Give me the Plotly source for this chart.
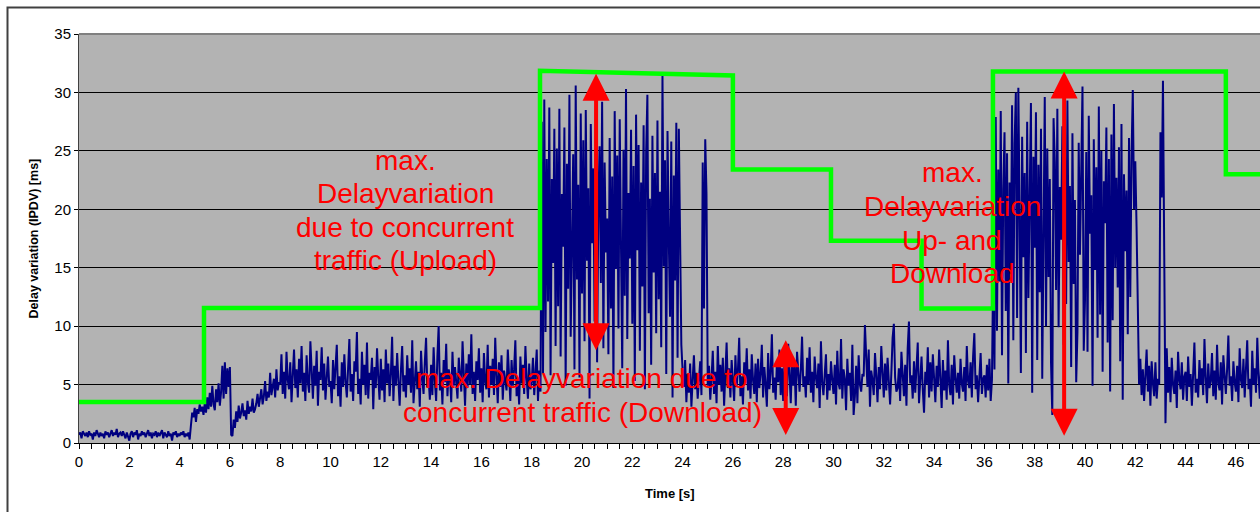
import numpy as np
import plotly.graph_objects as go

SAMPLE_STEP = 0.05  # seconds between delay samples

# IPDV delay samples [ms], 20 samples per second
delay_00s = [
    0.7,0.9,0.4,1.0,0.8,0.6,0.9,0.5,1.0,0.7,0.8,0.3,0.9,0.6,1.1,0.7,0.5,0.9,0.6,0.8,
    0.4,1.0,0.7,0.9,0.5,0.8,1.1,0.6,0.9,0.7,1.2,0.5,0.8,0.9,0.6,1.0,0.7,0.4,0.9,0.6,
    0.2,0.8,1.0,0.5,0.9,0.7,1.1,0.3,0.8,0.6,1.0,0.7,0.9,0.5,0.8,1.1,0.6,0.9,0.4,0.8,
    0.7,1.0,0.5,0.9,0.6,0.8,1.1,0.4,0.9,0.7,0.5,1.0,0.6,0.8,0.2,0.9,0.7,1.0,0.5,0.8,
    0.6,0.9,0.7,1.0,0.5,0.8,0.6,0.9,0.3,1.5,2.6,2.2,3.0,1.8,2.9,2.5,3.3,2.7,3.1,2.4,
    3.4,2.6,3.9,2.9,4.3,3.1,4.9,3.3,2.8,4.6,3.5,5.1,3.2,4.4,6.6,3.8,6.9,4.2,6.4,4.8,
    6.5,0.7,0.6,2.0,1.3,2.7,1.8,3.2,2.1,2.6,3.4,2.3,2.8,2.0,3.6,2.5,3.1,2.7,3.8,2.6,
    2.9,3.4,4.2,3.1,3.7,4.6,3.3,4.0,5.3,3.6,4.4,3.9,6.0,4.1,4.8,5.5,3.9,6.3,4.5,5.2,
    5.0,7.6,4.2,6.1,3.8,7.8,5.4,4.6,6.9,3.5,5.8,8.0,4.7,6.3,3.9,7.2,5.1,8.3,4.4,6.0,
    3.6,7.5,5.2,4.3,8.7,5.9,3.8,6.6,4.9,7.9,3.2,6.1,5.4,8.2,4.5,6.8,3.7,5.6,7.4,4.8,
]
delay_10s = [
    5.3,3.4,7.1,4.6,6.2,8.4,4.0,5.7,3.1,6.9,4.8,7.6,5.2,3.9,6.4,8.9,4.4,5.9,3.6,7.0,
    6.1,9.5,4.2,5.5,3.3,7.8,5.0,6.7,4.1,8.6,3.8,6.0,5.4,7.3,2.9,6.5,4.7,8.1,5.6,3.7,
    7.2,4.5,6.3,3.5,8.0,5.1,6.8,4.0,5.9,9.1,3.6,6.6,4.9,7.7,5.3,3.2,6.2,8.3,4.4,5.8,
    3.9,7.5,5.0,6.4,4.3,8.8,3.4,5.7,7.0,4.6,6.1,3.1,7.9,5.5,4.2,6.9,9.0,4.8,5.6,3.7,
    6.7,4.1,8.2,5.3,3.6,7.4,10.0,4.5,6.0,3.3,7.1,5.2,8.5,4.0,6.3,5.7,3.5,7.8,4.9,6.5,
    5.1,3.8,7.3,6.0,4.4,8.7,5.5,3.2,6.8,4.7,7.6,5.0,9.3,4.2,6.1,3.6,7.0,5.4,8.1,4.3,
    6.4,3.5,7.7,5.2,4.6,8.4,3.9,6.6,5.0,7.2,4.1,9.0,5.8,3.4,6.9,4.8,7.5,3.7,6.2,5.3,
    4.5,8.0,5.9,3.6,7.1,4.9,6.3,8.8,4.0,5.6,3.3,7.4,5.1,6.7,4.2,8.3,5.5,3.8,6.8,4.6,
    5.2,7.3,4.1,6.6,8.0,3.6,6.2,4.4,27.5,6.0,29.4,9.5,24.3,12.1,28.7,5.8,22.6,15.4,26.9,8.3,
    25.2,11.7,28.6,7.4,21.3,16.8,27.0,4.9,23.9,13.2,29.8,9.1,19.5,24.7,6.3,30.6,14.0,22.1,5.6,28.2,
]
delay_20s = [
    12.8,25.9,8.7,28.5,15.6,21.8,3.8,27.3,17.1,23.5,10.4,28.9,6.9,20.6,25.4,13.7,29.2,8.1,24.0,16.3,
    19.2,7.6,26.1,11.5,22.8,4.7,28.4,14.9,24.6,9.8,27.7,18.3,6.4,25.1,12.6,30.3,8.9,21.4,15.8,26.8,
    10.2,23.7,5.3,28.1,16.5,25.5,7.9,22.3,13.4,27.2,4.6,24.8,29.8,11.1,20.9,6.7,26.3,14.6,23.1,9.4,
    27.6,12.3,21.5,8.2,31.4,15.1,24.2,5.9,26.7,17.6,10.8,25.8,3.9,22.9,13.9,27.4,7.3,26.9,19.7,8.4,
    6.2,4.8,7.1,3.5,5.9,4.3,6.8,3.1,5.4,7.5,4.6,6.0,3.8,5.2,7.0,4.1,24.0,11.5,26.0,21.3,
    4.9,6.6,3.7,5.5,7.9,4.2,6.1,3.4,8.3,5.0,6.7,4.4,7.3,3.2,5.8,8.6,4.7,6.4,3.9,7.1,
    5.3,3.6,7.5,4.8,6.2,9.0,4.0,5.7,3.3,6.9,5.1,8.1,4.5,6.3,3.8,7.6,5.4,4.2,6.8,3.5,
    7.2,4.7,5.9,8.4,3.9,6.5,5.0,3.1,7.7,4.6,6.0,9.3,4.3,5.6,3.7,7.0,5.2,8.0,4.1,6.4,
    3.6,6.9,5.3,4.0,8.5,5.8,3.4,7.1,4.9,6.6,3.2,7.8,5.5,4.4,6.2,9.1,4.8,5.7,3.9,7.3,
    5.0,8.2,4.3,6.1,3.5,7.4,5.6,4.7,6.8,3.0,8.7,5.2,4.1,6.5,7.6,3.7,5.9,4.5,7.0,5.4,
]
delay_30s = [
    4.2,6.7,3.3,7.9,5.1,4.6,8.9,3.8,6.3,5.5,2.8,7.2,4.9,6.0,3.6,8.4,2.4,4.0,6.6,3.4,
    7.5,5.0,4.4,5.9,5.7,10.1,6.9,4.8,8.0,3.1,6.2,5.4,4.1,7.7,5.8,3.5,6.5,4.6,8.3,5.2,
    3.9,6.8,4.5,7.3,5.1,3.3,6.0,9.0,10.2,5.6,4.4,4.7,6.4,3.6,7.8,5.3,4.0,6.7,3.2,8.1,
    10.4,5.1,5.8,3.8,7.0,4.3,6.3,8.6,3.4,5.5,7.4,4.6,2.6,6.1,5.0,8.2,3.9,6.9,4.4,7.6,
    5.2,3.5,6.6,4.8,8.0,5.4,3.0,7.1,4.5,6.2,3.7,8.8,5.0,4.1,6.7,3.3,7.5,5.6,4.3,6.0,
    3.8,7.2,5.1,4.4,6.5,3.6,8.3,5.3,4.7,6.9,3.9,7.4,9.4,4.6,5.8,3.5,6.3,7.7,4.2,5.5,
    5.8,3.9,6.7,4.5,7.2,3.6,5.4,15.2,6.3,27.9,9.6,23.4,13.8,28.4,7.5,21.7,26.6,11.3,24.8,5.1,
    22.3,14.5,28.9,8.8,25.6,30.0,10.7,30.4,19.6,6.0,26.2,15.9,23.1,7.7,27.5,12.4,21.0,29.1,4.3,24.5,
    16.7,28.3,7.1,23.8,12.9,26.9,5.5,20.3,29.6,10.0,25.2,14.2,22.6,6.8,2.4,27.8,24.1,13.1,28.6,9.9,
    21.9,17.4,27.1,8.4,24.4,11.9,29.3,15.5,22.0,6.5,26.5,13.6,20.8,5.2,9.5,25.7,16.1,23.3,30.5,7.9,
]
delay_40s = [
    12.2,24.9,7.8,28.0,17.9,21.2,4.9,26.0,14.8,23.6,9.0,28.8,11.0,25.0,6.1,22.4,18.8,27.0,8.6,24.3,
    4.4,26.4,10.5,29.0,15.0,22.7,13.3,25.3,7.0,27.3,3.7,23.0,16.4,21.6,9.3,26.1,12.5,24.6,30.2,20.0,
    24.1,18.5,9.6,5.0,7.2,4.1,6.3,3.6,5.8,8.0,4.4,6.6,3.2,7.0,5.1,4.0,6.9,3.8,5.5,5.0,
    26.6,21.0,31.0,18.0,1.7,8.1,4.3,6.5,3.5,7.3,5.0,4.2,6.2,3.0,7.8,5.4,4.6,6.9,3.7,5.7,
    6.1,3.6,7.4,4.8,5.9,3.2,6.7,8.6,4.3,5.5,3.9,7.1,5.0,6.4,4.1,8.9,5.6,3.4,6.8,4.7,
    5.3,7.7,4.0,6.2,3.7,8.4,5.1,4.5,6.9,3.3,7.5,5.8,4.2,6.3,9.2,4.9,5.7,3.6,7.0,5.2,
    4.4,6.6,3.5,8.1,5.4,4.7,7.2,3.9,6.0,8.8,4.6,5.5,3.1,7.9,5.0,6.4,4.3,9.0,5.8,3.8,
    6.5,4.9,7.0,5.2,
]

# green step line (max. delay variation envelope)
envelope_t = [0, 4.97, 4.97, 18.33, 18.33, 26.0, 26.0, 29.9, 29.9, 33.5, 33.5, 36.34, 36.34, 45.6, 45.6, 47.5]
envelope_ms = [3.5, 3.5, 11.55, 11.55, 31.85, 31.45, 23.4, 23.4, 17.3, 17.3, 11.5, 11.5, 31.8, 31.8, 23.0, 23.0]

# red double arrows: x, top, bottom
arrow_x = [20.56, 28.1, 39.17]
arrow_top = [31.6, 8.8, 31.8]
arrow_bottom = [7.8, 0.55, 0.5]

x_tick_vals = list(range(0, 48, 2))
y_tick_vals = list(range(0, 36, 5))

label_upload = ["max.", "Delayvariation", "due to concurrent", "traffic (Upload)"]
label_download = ["max. Delayvariation due to", "concurrent traffic (Download)"]
label_both = ["max.", "Delayvariation", "Up- and", "Download"]

delay = delay_00s + delay_10s + delay_20s + delay_30s + delay_40s
t = np.arange(len(delay)) * SAMPLE_STEP

# ---- geometry in page pixels (page body margin removed in post_script) ----
W, H = 1260, 512
PLOT_L, PLOT_T, PLOT_B = 79, 34, 443
L, T, B, R = PLOT_L, PLOT_T, H - PLOT_B, 0
PW, PH = W - L - R, H - T - B
YMAX = 35.0
XMAX = PW / 25.15

def py2y(py):
    return (PLOT_B - py) / PH * YMAX

def px2x(px):
    return (px - PLOT_L) / PW * XMAX

def px2paper(px):
    return (px - PLOT_L) / PW

def py2paper(py):
    return (PLOT_B - py) / PH

FONT = "Arial, Liberation Sans, sans-serif"

fig = go.Figure()
fig.add_trace(go.Scatter(x=t, y=delay, mode="lines",
                         line=dict(color="#000080", width=2.0), hoverinfo="skip"))
fig.add_trace(go.Scatter(x=envelope_t, y=envelope_ms, mode="lines",
                         line=dict(color="#00ff00", width=4.5), hoverinfo="skip"))

ann = []
for xa, yt, yb in zip(arrow_x, arrow_top, arrow_bottom):
    ann.append(dict(x=xa, y=yt, ax=xa, ay=yb, xref="x", yref="y", axref="x", ayref="y",
                    text="", showarrow=True, arrowside="end+start", arrowhead=2,
                    startarrowhead=2, arrowsize=1.35, startarrowsize=1.35,
                    arrowwidth=4, arrowcolor="#ff0000", standoff=0, startstandoff=0))

def add_lines(lines, cx_px, baselines):
    for txt, bl in zip(lines, baselines):
        ann.append(dict(x=px2x(cx_px), y=py2y(bl - 10), xref="x", yref="y", text=txt,
                        showarrow=False, xanchor="center", yanchor="middle",
                        font=dict(family=FONT, size=28, color="#ff0000")))

add_lines(label_upload, 405, [170, 203.5, 237, 270])
add_lines(label_download, 582, [388, 422])
add_lines(label_both, 952, [182, 216, 250, 283])

ann.append(dict(x=px2paper(33), y=py2paper(238.5), xref="paper", yref="paper",
                text="Delay variation (IPDV) [ms]", textangle=-90, showarrow=False,
                xanchor="center", yanchor="middle",
                font=dict(family=FONT, size=12.5, color="black", weight="bold")))
ann.append(dict(x=px2paper(670), y=py2paper(493), xref="paper", yref="paper",
                text="Time [s]", showarrow=False, xanchor="center", yanchor="middle",
                font=dict(family=FONT, size=13, color="black", weight="bold")))

shapes = [
    dict(type="line", xref="paper", yref="paper", x0=0, x1=1, y0=1, y1=1,
         line=dict(color="#808080", width=2)),
    dict(type="rect", xref="paper", yref="paper",
         x0=px2paper(7.5), x1=1.3, y0=-0.6, y1=py2paper(7.5),
         line=dict(color="#404040", width=2), fillcolor="rgba(0,0,0,0)"),
]

fig.update_layout(
    width=W, height=H, margin=dict(l=L, r=R, t=T, b=B, pad=0),
    plot_bgcolor="#b3b3b3", paper_bgcolor="white", showlegend=False,
    font=dict(family=FONT, size=15, color="black"),
    annotations=ann, shapes=shapes,
    xaxis=dict(range=[0, XMAX], tickmode="array", tickvals=x_tick_vals,
               ticks="outside", ticklen=5, tickcolor="black", tickwidth=1,
               showline=True, linecolor="black", linewidth=1,
               showgrid=False, zeroline=False, tickfont=dict(size=15),
               minor=dict(dtick=0.5, tick0=0, ticks="outside", ticklen=5,
                          tickcolor="black", tickwidth=1, showgrid=False)),
    yaxis=dict(range=[0, YMAX], tickmode="array", tickvals=y_tick_vals,
               ticks="outside", ticklen=4, tickcolor="black",
               showline=True, linecolor="#404040", linewidth=1,
               showgrid=True, gridcolor="black", gridwidth=1,
               zeroline=False, tickfont=dict(size=15)),
)

fig.write_html(
    "out.html",
    config={"responsive": False, "displayModeBar": False},
    post_script="document.body.style.margin='0';document.body.style.overflow='hidden';",
)
